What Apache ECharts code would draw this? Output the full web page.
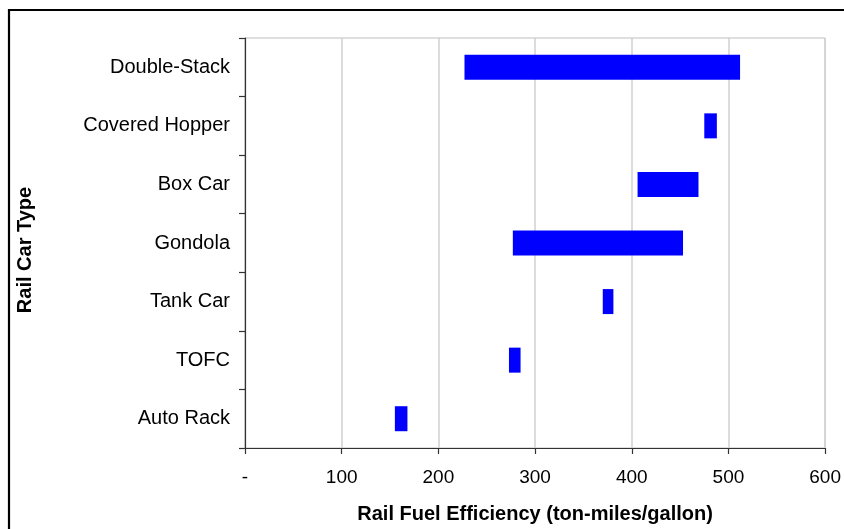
<!DOCTYPE html>
<html>
<head>
<meta charset="utf-8">
<script src="https://cdn.jsdelivr.net/npm/echarts@6/dist/echarts.min.js"></script>
<style>
html,body{margin:0;padding:0;background:#fff;}
#chart{width:844px;height:529px;}
</style>
</head>
<body>
<div id="chart"></div>
<script>
const categories = ['Double-Stack', 'Covered Hopper', 'Box Car', 'Gondola', 'Tank Car', 'TOFC', 'Auto Rack'];
const lowValues  = [227, 475, 406, 277, 370, 273, 155];
const highValues = [512, 488, 469, 453, 381, 285, 168];
const xTickLabels = ['-', '100', '200', '300', '400', '500', '600'];
const xAxisTitle = 'Rail Fuel Efficiency (ton-miles/gallon)';
const yAxisTitle = 'Rail Car Type';

const spans = highValues.map((h, i) => h - lowValues[i]);

const chart = echarts.init(document.getElementById('chart'));
const font = 'Arial, "Liberation Sans", sans-serif';
chart.setOption({
  animation: false,
  backgroundColor: '#fff',
  graphic: [{
    type: 'rect',
    shape: { x: 9, y: 10, width: 1000, height: 1000 },
    style: { fill: 'none', stroke: '#000', lineWidth: 2.2 },
    z: 100
  }],
  grid: {
    left: 245, right: 18, top: 38, bottom: 79,
    show: true, borderColor: '#bfbfbf', borderWidth: 1, backgroundColor: '#fff'
  },
  xAxis: {
    type: 'value', min: 0, max: 600, interval: 100,
    name: xAxisTitle, nameLocation: 'middle', nameGap: 56,
    nameTextStyle: { fontFamily: font, fontSize: 20, fontWeight: 'bold', color: '#000' },
    axisLine: { show: true, lineStyle: { color: '#333', width: 1.2 } },
    axisTick: { show: true, length: 6, lineStyle: { color: '#333', width: 1.2 } },
    axisLabel: {
      margin: 20, fontFamily: font, fontSize: 19, color: '#000',
      formatter: v => xTickLabels[Math.round(v / 100)]
    },
    splitLine: { show: true, lineStyle: { color: '#d0d0d0', width: 1.5 } }
  },
  yAxis: {
    type: 'category', data: categories, inverse: true,
    name: yAxisTitle, nameLocation: 'middle', nameGap: 210, nameRotate: 90,
    nameTextStyle: { fontFamily: font, fontSize: 20, fontWeight: 'bold', color: '#000', padding: [0, 14, 0, 0] },
    axisLine: { show: true, lineStyle: { color: '#333', width: 1.2 } },
    axisTick: { show: true, length: 6, lineStyle: { color: '#333', width: 1.2 } },
    axisLabel: { margin: 15, fontFamily: font, fontSize: 20, color: '#000' },
    splitLine: { show: false }
  },
  series: [
    {
      type: 'bar', stack: 'range', data: lowValues, barWidth: 25,
      itemStyle: { color: 'transparent' }, silent: true
    },
    {
      type: 'bar', stack: 'range', data: spans, barWidth: 25,
      itemStyle: { color: '#0000ff' }
    }
  ]
});
</script>
</body>
</html>
